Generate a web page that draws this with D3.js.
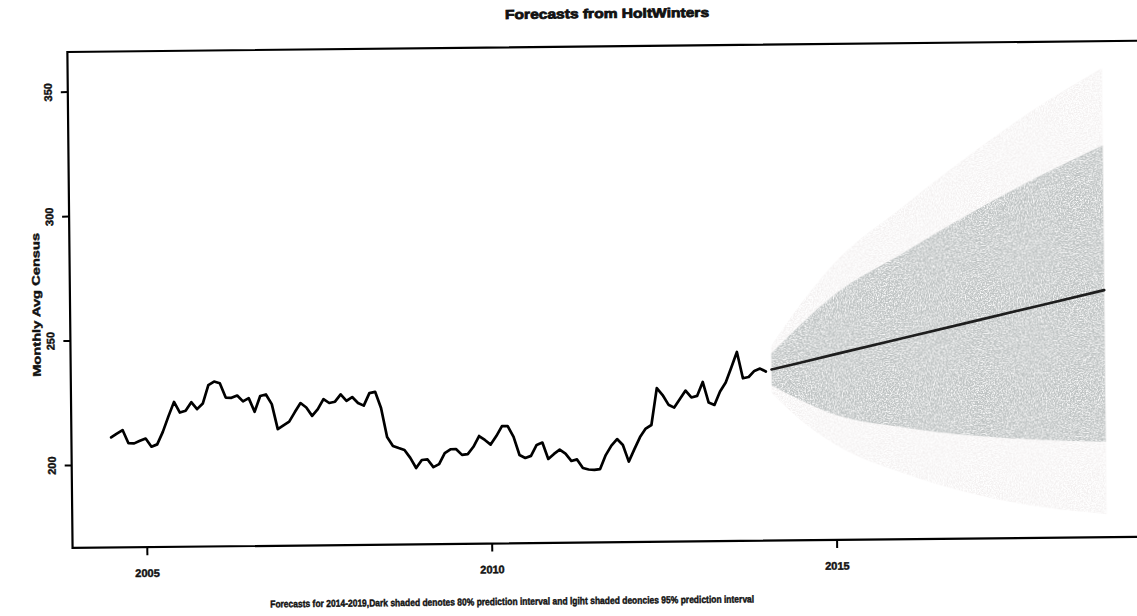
<!DOCTYPE html>
<html>
<head>
<meta charset="utf-8">
<script src="https://cdn.jsdelivr.net/npm/d3@7"></script>
<style>
  html, body { margin: 0; padding: 0; background: #fff; }
  svg { display: block; }
  text { font-family: "Liberation Sans", Arial, sans-serif; font-weight: bold; fill: #111; stroke: #111; stroke-width: 0.45; }
</style>
</head>
<body>
<svg id="chart" width="1137" height="616"></svg>
<script>
// Monthly average census, first observation July 2004
const censusStart = 2004.5;
const censusValues = [
  210.9, 212.4, 213.8, 208.5, 208.4, 209.4, 210.3, 207.0, 207.9, 212.9,
  219.1, 224.9, 220.6, 221.3, 224.7, 221.9, 224.1, 231.5, 232.9, 232.2,
  226.4, 226.3, 227.2, 224.8, 226.1, 220.6, 226.9, 227.5, 223.6, 213.5,
  215.0, 216.5, 220.3, 223.9, 222.1, 218.7, 221.4, 225.4, 223.8, 224.3,
  227.2, 224.6, 226.1, 223.7, 222.6, 227.6, 228.1, 221.6, 209.9, 206.3,
  205.4, 204.6, 201.4, 197.3, 200.5, 200.7, 197.6, 198.8, 203.2, 204.7,
  204.7, 202.4, 202.7, 205.6, 209.9, 208.3, 206.4, 209.8, 213.8, 213.8,
  209.4, 202.1, 200.9, 201.7, 206.1, 207.0, 200.4, 202.4, 204.1, 202.5,
  199.5, 200.1, 196.6, 196.0, 195.8, 196.1, 201.7, 205.5, 208.1, 205.7,
  199.0, 204.0, 208.8, 212.2, 213.6, 228.4, 225.6, 221.7, 220.5, 223.9,
  227.3, 224.5, 225.1, 230.7, 222.4, 221.4, 226.8, 230.4, 236.4, 242.6,
  232.0, 232.5, 234.9, 235.8, 234.6
];

// HoltWinters forecast: point forecast and prediction limits
const fcTime = [2014.083, 2014.5, 2015, 2016, 2017, 2018, 2018.917];
const fcMean = [235.4, 238.0, 241.2, 247.5, 253.8, 260.1, 265.9];
const fcLo80 = [229.0, 223.0, 217.0, 211.5, 208.0, 206.0, 205.0];
const fcHi80 = [241.8, 253.0, 265.0, 281.5, 297.5, 312.0, 324.0];
const fcLo95 = [226.0, 215.0, 205.0, 193.0, 184.5, 179.0, 176.0];
const fcHi95 = [244.8, 261.0, 277.5, 300.0, 321.0, 340.0, 355.0];

const xTicks = [2005, 2010, 2015];
const yTicks = [200, 250, 300, 350];

const titleText = "Forecasts from HoltWinters";
const yLabelText = "Monthly Avg Census";
const captionText = "Forecasts for 2014-2019,Dark shaded denotes 80% prediction interval and lgiht shaded deoncies 95% prediction interval";

const svg = d3.select("#chart");

// noise texture for the shaded prediction bands
const defs = svg.append("defs");
function grainFilter(id, seed, gain, offset) {
  const f = defs.append("filter").attr("id", id)
    .attr("x", 0).attr("y", 0).attr("width", 1).attr("height", 1);
  f.append("feTurbulence").attr("type", "fractalNoise")
    .attr("baseFrequency", 0.75).attr("numOctaves", 2).attr("seed", seed).attr("result", "noise");
  f.append("feColorMatrix").attr("in", "noise").attr("type", "matrix")
    .attr("values", `0 0 0 0 1  0 0 0 0 1  0 0 0 0 1  ${gain} 0 0 0 ${offset}`).attr("result", "specks");
  f.append("feComposite").attr("in", "specks").attr("in2", "SourceAlpha")
    .attr("operator", "in").attr("result", "clipped");
  const m = f.append("feMerge");
  m.append("feMergeNode").attr("in", "SourceGraphic");
  m.append("feMergeNode").attr("in", "clipped");
}
grainFilter("grainDark", 5, 2.6, -1.05);
grainFilter("grainLight", 9, 3.2, -1.1);

// whole figure sits slightly tilted
const g = svg.append("g").attr("transform", "rotate(-0.6, 600, 300)");

const plot = { left: 70, right: 1150, top: 46.4, bottom: 542.4 };

const x = d3.scaleLinear().domain([2003.924, 2019.58]).range([plot.left, plot.right]);
const y = d3.scaleLinear().domain([166.65, 365.93]).range([plot.bottom, plot.top]);

const fc = fcTime.map((t, i) => ({
  t, mean: fcMean[i], lo80: fcLo80[i], hi80: fcHi80[i], lo95: fcLo95[i], hi95: fcHi95[i]
}));

const clip = defs.append("clipPath").attr("id", "plotClip");
clip.append("rect").attr("x", plot.left).attr("y", plot.top)
  .attr("width", plot.right - plot.left).attr("height", plot.bottom - plot.top);

const inner = g.append("g").attr("clip-path", "url(#plotClip)");

const band = (lo, hi) => d3.area()
  .x(d => x(d.t)).y0(d => y(d[lo])).y1(d => y(d[hi]))
  .curve(d3.curveMonotoneX);

inner.append("path").datum(fc)
  .attr("d", band("lo95", "hi95"))
  .attr("fill", "#f3f0f0")
  .attr("filter", "url(#grainLight)");

inner.append("path").datum(fc)
  .attr("d", band("lo80", "hi80"))
  .attr("fill", "#bec2c2")
  .attr("filter", "url(#grainDark)");

// observed series
const obs = censusValues.map((v, i) => ({ t: censusStart + i / 12, v }));
inner.append("path").datum(obs)
  .attr("d", d3.line().x(d => x(d.t)).y(d => y(d.v)))
  .attr("fill", "none").attr("stroke", "#000").attr("stroke-width", 2.7)
  .attr("stroke-linejoin", "round").attr("stroke-linecap", "round");

// point forecast
inner.append("path").datum(fc)
  .attr("d", d3.line().x(d => x(d.t)).y(d => y(d.mean)))
  .attr("fill", "none").attr("stroke", "#1e1e1e").attr("stroke-width", 2.7)
  .attr("stroke-linecap", "round");

// frame (right side runs past the page edge)
g.append("rect")
  .attr("x", plot.left).attr("y", plot.top)
  .attr("width", plot.right - plot.left).attr("height", plot.bottom - plot.top)
  .attr("fill", "none").attr("stroke", "#000").attr("stroke-width", 2.2);

// x axis
const xAxis = g.append("g").attr("transform", `translate(0,${plot.bottom})`)
  .call(d3.axisBottom(x).tickValues(xTicks).tickFormat(d3.format("d")).tickSize(8).tickPadding(14));
xAxis.select(".domain").remove();
xAxis.selectAll(".tick line").attr("stroke", "#000").attr("stroke-width", 2);
xAxis.selectAll(".tick text").attr("font-size", 11).attr("fill", "#111")
  .attr("font-family", "Liberation Sans, Arial, sans-serif").attr("font-weight", "bold");

// y axis, labels parallel to the axis
const yAxis = g.append("g").attr("transform", `translate(${plot.left},0)`)
  .call(d3.axisLeft(y).tickValues(yTicks).tickSize(7).tickFormat(d3.format("d")));
yAxis.select(".domain").remove();
yAxis.selectAll(".tick line").attr("stroke", "#000").attr("stroke-width", 2);
yAxis.selectAll(".tick text")
  .attr("x", null).attr("dy", null)
  .attr("text-anchor", "middle")
  .attr("transform", "translate(-16,0) rotate(-90)")
  .attr("font-size", 11).attr("fill", "#111")
  .attr("font-family", "Liberation Sans, Arial, sans-serif").attr("font-weight", "bold");

// titles
g.append("text")
  .attr("x", 610).attr("y", 18)
  .attr("text-anchor", "middle").attr("font-size", 13)
  .attr("textLength", 204).attr("lengthAdjust", "spacingAndGlyphs")
  .style("stroke-width", 0.8)
  .text(titleText);

g.append("text")
  .attr("transform", "translate(40,299) rotate(-90)")
  .attr("text-anchor", "middle").attr("font-size", 11)
  .attr("textLength", 144).attr("lengthAdjust", "spacingAndGlyphs")
  .text(yLabelText);

g.append("text")
  .attr("x", 509).attr("y", 604)
  .attr("text-anchor", "middle").attr("font-size", 10)
  .attr("textLength", 484).attr("lengthAdjust", "spacingAndGlyphs")
  .text(captionText);
</script>
</body>
</html>
